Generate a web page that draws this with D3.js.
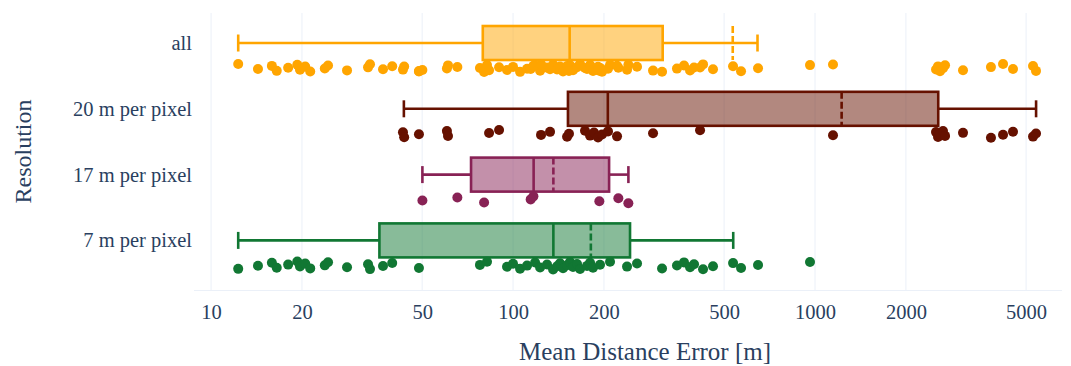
<!DOCTYPE html>
<html>
<head>
<meta charset="utf-8">
<script src="https://cdn.jsdelivr.net/npm/d3@7"></script>
<style>
  html, body { margin: 0; padding: 0; background: #ffffff; }
  svg { display: block; font-family: "Liberation Serif", "Times New Roman", serif; }
</style>
</head>
<body>
<div id="chart"></div>
<script>
// categories, top to bottom
const categories = ['all', '20 m per pixel', '17 m per pixel', '7 m per pixel'];
const lineColors = ['#ffa500', '#661100', '#882255', '#117733'];

// box statistics
const lowerFence = [12.3, 43.5, 50.1, 12.3];
const q1 = [79.4, 152, 72.6, 36.1];
const median = [154, 206, 117, 136];
const q3 = [313, 2559, 208, 244];
const upperFence = [645, 5396, 241, 536];
const means = [534, 1225, 136, 181];

// individual runs
const points20 = [43.2, 43.6, 48.8, 60.4, 60.9, 83.3, 89.9, 123.8, 132.6, 151, 153.2, 173.1, 179.9,
  185.4, 191.2, 197.1, 206.3, 221, 290.8, 416.2, 1147, 2516, 2555, 2594, 2654, 2695, 3091, 3825,
  4194, 4525, 5272, 5393];
const points17 = [50.1, 65.4, 80.2, 114.4, 116.8, 193.1, 223.2, 240.9];
const points7 = [12.3, 14.3, 15.9, 16.5, 18.0, 19.3, 19.7, 20.5, 21.3, 23.8, 24.4, 28.2, 33.1, 33.6,
  37.1, 39.8, 48.8, 77.7, 82.0, 95.5, 100, 105.5, 111.3, 118.3, 122.9, 129.6, 135.7, 139.9, 143.1,
  146.4, 151, 154.4, 158, 162.9, 166.7, 175.8, 179.9, 184, 194.1, 209.5, 238.5, 257.4, 311.5, 349,
  368.3, 385.6, 397.5, 425.8, 459.4, 535.3, 568.9, 647.6, 962.5];
const pointsAll = [...points7, ...points17, ...points20];
const groupPoints = [pointsAll, points20, points17, points7];

const xTicks = [10, 20, 50, 100, 200, 500, 1000, 2000, 5000];

const width = 1071;
const height = 366;
const plot = { left: 194, right: 1062, top: 13, bottom: 290 };
const textColor = '#2a3f5f';
const gridColor = '#ebf0f8';
const boxHalf = 17;
const pointOffset = 25;
const jitter = 4;
const serif = '"Liberation Serif", "Times New Roman", serif';

const svg = d3.select('#chart')
  .append('svg')
  .attr('width', width)
  .attr('height', height);

const x = d3.scaleLog()
  .domain([8.78, 6575])
  .range([plot.left, plot.right]);

const y = d3.scalePoint()
  .domain(categories)
  .range([plot.top, plot.bottom])
  .padding(0.605)
  .align(0.377);

// grid
svg.append('g')
  .selectAll('line')
  .data(xTicks)
  .enter()
  .append('line')
  .attr('x1', d => x(d))
  .attr('x2', d => x(d))
  .attr('y1', plot.top)
  .attr('y2', plot.bottom)
  .style('stroke', gridColor)
  .style('stroke-width', 1);

svg.append('line')
  .attr('x1', plot.left)
  .attr('x2', plot.right)
  .attr('y1', plot.bottom + 0.5)
  .attr('y2', plot.bottom + 0.5)
  .style('stroke', gridColor)
  .style('stroke-width', 1);

// x axis
const xAxis = d3.axisBottom(x)
  .tickValues(xTicks)
  .tickFormat(d3.format('d'))
  .tickSize(0)
  .tickPadding(14);

const gx = svg.append('g')
  .attr('transform', `translate(0,${plot.bottom})`)
  .call(xAxis);
gx.attr('font-family', null);
gx.select('.domain').remove();
gx.selectAll('text')
  .style('font-size', '20.5px')
  .style('font-family', serif)
  .style('fill', textColor);

// y axis
const yAxis = d3.axisLeft(y).tickSize(0).tickPadding(2);
const gy = svg.append('g')
  .attr('transform', `translate(${plot.left},0)`)
  .call(yAxis);
gy.attr('font-family', null);
gy.select('.domain').remove();
gy.selectAll('text')
  .style('font-size', '20.5px')
  .style('font-family', serif)
  .style('fill', textColor);

// axis titles
svg.append('text')
  .attr('x', (plot.left + plot.right) / 2 + 17)
  .attr('y', 360)
  .attr('text-anchor', 'middle')
  .style('font-size', '25px')
  .style('fill', textColor)
  .text('Mean Distance Error [m]');

svg.append('text')
  .attr('transform', `translate(31,${(plot.top + plot.bottom) / 2}) rotate(-90)`)
  .attr('text-anchor', 'middle')
  .style('font-size', '24px')
  .style('fill', textColor)
  .text('Resolution');

// boxes
categories.forEach((cat, i) => {
  const cy = y(cat);
  const color = lineColors[i];
  const g = svg.append('g').attr('class', 'box');

  g.append('line')
    .attr('x1', x(lowerFence[i])).attr('x2', x(q1[i]))
    .attr('y1', cy).attr('y2', cy)
    .style('stroke', color).style('stroke-width', 2.6);
  g.append('line')
    .attr('x1', x(q3[i])).attr('x2', x(upperFence[i]))
    .attr('y1', cy).attr('y2', cy)
    .style('stroke', color).style('stroke-width', 2.6);

  [lowerFence[i], upperFence[i]].forEach(v => {
    g.append('line')
      .attr('x1', x(v)).attr('x2', x(v))
      .attr('y1', cy - boxHalf / 2).attr('y2', cy + boxHalf / 2)
      .style('stroke', color).style('stroke-width', 2.6);
  });

  g.append('rect')
    .attr('x', x(q1[i]))
    .attr('y', cy - boxHalf)
    .attr('width', x(q3[i]) - x(q1[i]))
    .attr('height', boxHalf * 2)
    .style('fill', color)
    .style('fill-opacity', 0.5)
    .style('stroke', color)
    .style('stroke-width', 2.6);

  g.append('line')
    .attr('x1', x(median[i])).attr('x2', x(median[i]))
    .attr('y1', cy - boxHalf).attr('y2', cy + boxHalf)
    .style('stroke', color).style('stroke-width', 2.6);

  g.append('line')
    .attr('x1', x(means[i])).attr('x2', x(means[i]))
    .attr('y1', cy - boxHalf).attr('y2', cy + boxHalf)
    .style('stroke', color).style('stroke-width', 2.6)
    .style('stroke-dasharray', '7,3');

  // jittered points, fixed spread pattern
  g.selectAll('circle')
    .data(groupPoints[i])
    .enter()
    .append('circle')
    .attr('cx', d => x(d))
    .attr('cy', (d, j) => cy + pointOffset + (((j * 0.618034 + i * 0.31) % 1) - 0.5) * 2 * jitter)
    .attr('r', 5)
    .style('fill', color);
});
</script>
</body>
</html>
